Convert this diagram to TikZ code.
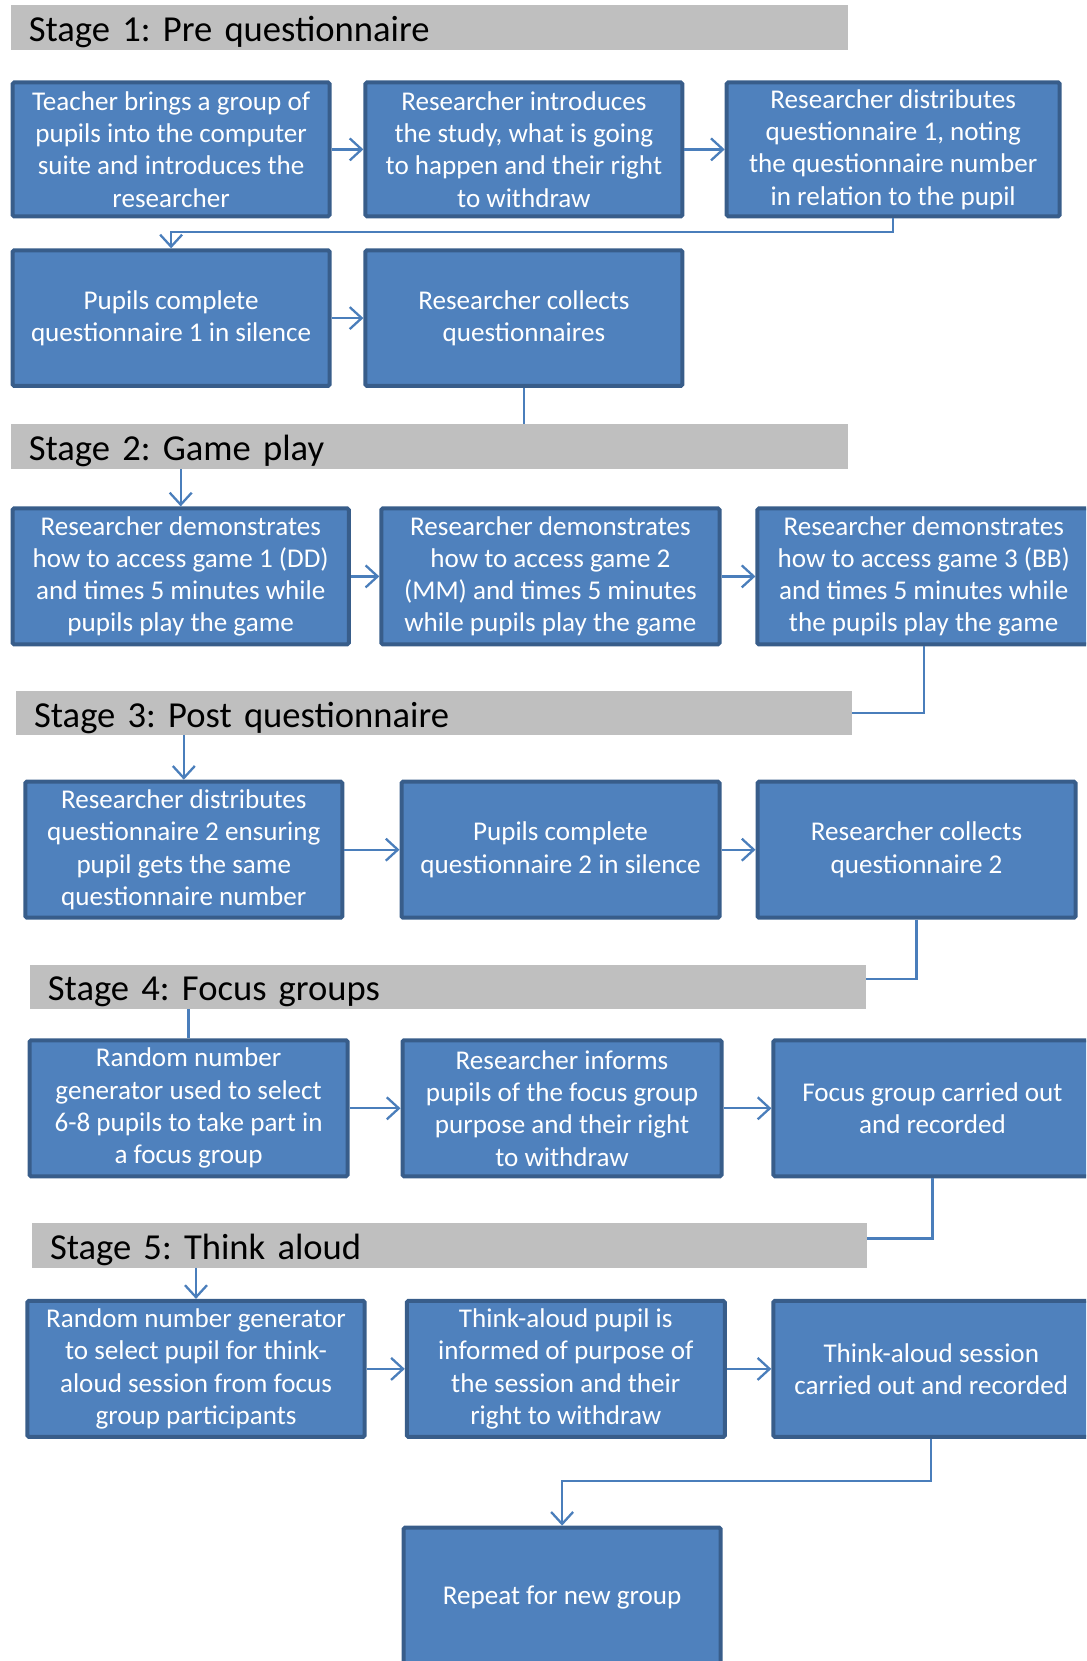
\documentclass[tikz,border=0pt]{standalone}
\usepackage{fontspec}
\setmainfont{Carlito}
\usetikzlibrary{arrows.meta}
\definecolor{boxblue}{HTML}{4F81BD}
\definecolor{edgeblue}{HTML}{385D8A}
\definecolor{linkblue}{HTML}{4A7EBB}
\definecolor{stagegray}{HTML}{BFBFBF}
\frenchspacing
\begin{document}
\begin{tikzpicture}[x=1pt,y=-1pt,
  proc/.style={draw=edgeblue,fill=boxblue,line width=4pt,rounded corners=1.5pt,
    text=white,align=center,inner sep=0pt,font=\fontsize{27.1}{32.3}\selectfont},
  stagebar/.style={fill=stagegray,anchor=west,align=left,inner xsep=18pt,inner ysep=0pt,
    minimum height=44.5pt,text height=35pt,text depth=7pt,font=\fontsize{36.6}{44}\selectfont},
  link/.style={draw=linkblue,line width=2.3pt},
  flow/.style={link,-{Straight Barb[length=12pt,width=22pt]}}]
\useasboundingbox (0,0) rectangle (1086,1661);
\clip (0,0) rectangle (1086,1661);
% stage 1
\node[stagebar,text width=801] (stage1) at (10.6,27.5) {Stage 1: Pre questionnaire};
\node[proc,minimum width=317,minimum height=133.8] (teacher) at (171.1,149.4)
  {Teacher brings a group of\\ pupils into the computer\\ suite and introduces the\\ researcher};
\node[proc,minimum width=317,minimum height=133.8] (introduce) at (523.9,149.4)
  {Researcher introduces\\ the study, what is going\\ to happen and their right\\ to withdraw};
\node[proc,minimum width=333,minimum height=133.8] (distrib1) at (893.2,149.4)
  {Researcher distributes\\ questionnaire 1, noting\\ the questionnaire number\\ in relation to the pupil};
\node[proc,minimum width=317,minimum height=135.5] (complete1) at (171.1,318.1)
  {Pupils complete\\ questionnaire 1 in silence};
\node[proc,minimum width=317,minimum height=135.5] (collect1) at (523.9,318.1)
  {Researcher collects\\ questionnaires};
\draw[flow] (teacher) -- (introduce);
\draw[flow] (introduce) -- (distrib1);
\draw[flow] (distrib1.south) -- ++(0,13.7) -| (complete1.north);
\draw[flow] (complete1) -- (collect1);
%
% stage 2
\node[stagebar,text width=801] (stage2) at (10.6,446.6) {Stage 2: Game play};
\node[proc,minimum width=336.1,minimum height=136] (demo1) at (180.7,576.4)
  {Researcher demonstrates\\ how to access game 1 (DD)\\ and times 5 minutes while\\ pupils play the game};
\node[proc,minimum width=338.2,minimum height=136] (demo2) at (550.4,576.4)
  {Researcher demonstrates\\ how to access game 2\\ (MM) and times 5 minutes\\ while pupils play the game};
\node[proc,minimum width=332.5,minimum height=136] (demo3) at (923.7,576.4)
  {Researcher demonstrates\\ how to access game 3 (BB)\\ and times 5 minutes while\\ the pupils play the game};
\draw[link] (collect1.south) -- (collect1.south |- stage2.north);
\draw[flow] (stage2.south -| demo1) -- (demo1.north);
\draw[flow] (demo1) -- (demo2);
\draw[flow] (demo2) -- (demo3);
%
% stage 3
\node[stagebar,text width=799.9] (stage3) at (15.9,713) {Stage 3: Post questionnaire};
\node[proc,minimum width=317,minimum height=136] (distrib2) at (183.8,849.7)
  {Researcher distributes\\ questionnaire 2 ensuring\\ pupil gets the same\\ questionnaire number};
\node[proc,minimum width=318,minimum height=136] (complete2) at (560.5,849.7)
  {Pupils complete\\ questionnaire 2 in silence};
\node[proc,minimum width=318,minimum height=136] (collect2) at (916.5,849.7)
  {Researcher collects\\ questionnaire 2};
\draw[link] (demo3.south) |- (stage3.east);
\draw[flow] (stage3.south -| distrib2) -- (distrib2.north);
\draw[flow] (distrib2) -- (complete2);
\draw[flow] (complete2) -- (collect2);
%
% stage 4
\node[stagebar,text width=799.9] (stage4) at (29.7,986.9) {Stage 4: Focus groups};
\node[proc,minimum width=318,minimum height=136] (randsel) at (188.6,1108.3)
  {Random number\\ generator used to select\\ 6-8 pupils to take part in\\ a focus group};
\node[proc,minimum width=319,minimum height=136] (inform) at (562,1108.3)
  {Researcher informs\\ pupils of the focus group\\ purpose and their right\\ to withdraw};
\node[proc,minimum width=318,minimum height=136] (focus) at (932.4,1108.3)
  {Focus group carried out\\ and recorded};
\draw[link] (collect2.south) |- ([yshift=8pt]stage4.east);
\draw[link] (stage4.south -| randsel) -- (randsel.north);
\draw[flow] (randsel) -- (inform);
\draw[flow] (inform) -- (focus);
%
% stage 5
\node[stagebar,text width=798.9] (stage5) at (31.8,1245.5) {Stage 5: Think aloud};
\node[proc,minimum width=337.2,minimum height=136] (thinksel) at (196,1368.9)
  {Random number generator\\ to select pupil for think-\\ aloud session from focus\\ group participants};
\node[proc,minimum width=318,minimum height=136] (thinkinform) at (565.8,1368.9)
  {Think-aloud pupil is\\ informed of purpose of\\ the session and their\\ right to withdraw};
\node[proc,minimum width=316,minimum height=136] (thinksess) at (931.3,1368.9)
  {Think-aloud session\\ carried out and recorded};
\node[proc,minimum width=317,minimum height=140.5] (again) at (562.1,1597.9)
  {Repeat for new group};
\draw[link] (focus.south) |- ([yshift=7pt]stage5.east);
\draw[flow] (stage5.south -| thinksel) -- (thinksel.north);
\draw[flow] (thinksel) -- (thinkinform);
\draw[flow] (thinkinform) -- (thinksess);
\draw[flow] (thinksess.south) -- ++(0,42.4) -| (again.north);
\end{tikzpicture}
\end{document}
